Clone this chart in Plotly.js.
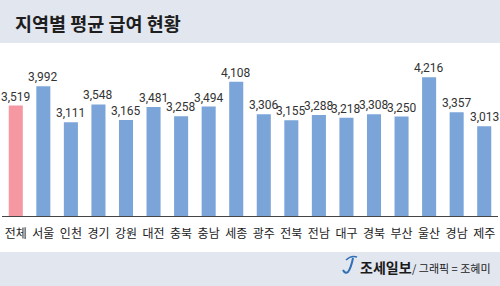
<!DOCTYPE html>
<html>
<head>
<meta charset="utf-8">
<script src="https://cdn.plot.ly/plotly-3.0.1.min.js"></script>
<style>html,body{margin:0;padding:0;background:#e2e6ef;}#chart{width:500px;height:286px;}</style>
</head>
<body>
<div id="chart"></div>
<script>
const regions = ['전체','서울','인천','경기','강원','대전','충북','충남','세종','광주','전북','전남','대구','경북','부산','울산','경남','제주'];
const salaries = [3519,3992,3111,3548,3165,3481,3258,3494,4108,3306,3155,3288,3218,3308,3250,4216,3357,3013];
const barColors = regions.map((r,i) => i === 0 ? '#f598a2' : '#7ba4d9');

const W = 500, H = 286, L = 2, R = 2, T = 43, B = 70;
const pw = W - L - R, ph = H - T - B;
const px = x => (x - L) / pw;
const py = y => (H - B - y) / ph;

const trace = {
  type: 'bar',
  x: regions,
  y: salaries,
  marker: {color: barColors},
  hoverinfo: 'none'
};

const valueLabels = regions.map((r, i) => ({
  x: r, y: salaries[i], xref: 'x', yref: 'y',
  text: salaries[i].toLocaleString('en-US'),
  showarrow: false, xanchor: 'center', yanchor: 'bottom', yshift: 0,
  font: {family: '"Liberation Sans Narrow", Roboto, sans-serif', size: 12, color: '#333'}
}));

const layout = {
  width: W, height: H,
  margin: {l: L, r: R, t: T, b: B, pad: 0},
  paper_bgcolor: '#e2e6ef',
  plot_bgcolor: 'rgba(0,0,0,0)',
  bargap: 0.49,
  showlegend: false,
  title: {
    text: '지역별 평균 급여 현황',
    x: 15 / W, xanchor: 'left', xref: 'container',
    y: 1 - 25 / H, yanchor: 'middle', yref: 'container',
    font: {family: '"Noto Sans CJK KR", sans-serif', size: 18.5, color: '#1e1e1e', weight: 'bold'}
  },
  xaxis: {
    type: 'category',
    range: [-0.5, 17.5],
    showline: true, linecolor: '#444', linewidth: 1,
    ticks: '', showgrid: false, zeroline: false,
    tickfont: {family: '"Noto Sans CJK KR", sans-serif', size: 12, color: '#222'},
    ticklabelstandoff: 7
  },
  yaxis: {
    range: [800, 5060],
    visible: false, showgrid: false, zeroline: false
  },
  shapes: [
    {type: 'rect', xref: 'paper', yref: 'paper', x0: px(0), x1: px(500), y0: py(252), y1: py(43),
     fillcolor: '#ffffff', line: {width: 0}, layer: 'below'},
    {type: 'path', xref: 'paper', yref: 'paper',
     path: 'M ' + px(353) + ' ' + py(258) + ' Q ' + px(351) + ' ' + py(268) + ' ' + px(348) + ' ' + py(272) + ' Q ' + px(345) + ' ' + py(274) + ' ' + px(343) + ' ' + py(270),
     line: {color: '#2f6fb6', width: 2}},
    {type: 'path', xref: 'paper', yref: 'paper',
     path: 'M ' + px(346) + ' ' + py(260) + ' Q ' + px(351) + ' ' + py(255) + ' ' + px(357) + ' ' + py(257),
     line: {color: '#2f6fb6', width: 1.5}}
  ],
  annotations: valueLabels.concat([
    {text: '조세일보', xref: 'paper', yref: 'paper', x: px(358), y: py(267), xanchor: 'left', yanchor: 'middle',
     showarrow: false, font: {family: '"Noto Sans CJK KR", sans-serif', size: 14, color: '#1a1a1a', weight: 'bold'}},
    {text: '/ 그래픽 = 조혜미', xref: 'paper', yref: 'paper', x: px(410), y: py(268), xanchor: 'left', yanchor: 'middle',
     showarrow: false, font: {family: '"Noto Sans CJK KR", sans-serif', size: 11, color: '#222'}}
  ])
};

Plotly.newPlot('chart', [trace], layout, {staticPlot: true, displayModeBar: false});
</script>
</body>
</html>
